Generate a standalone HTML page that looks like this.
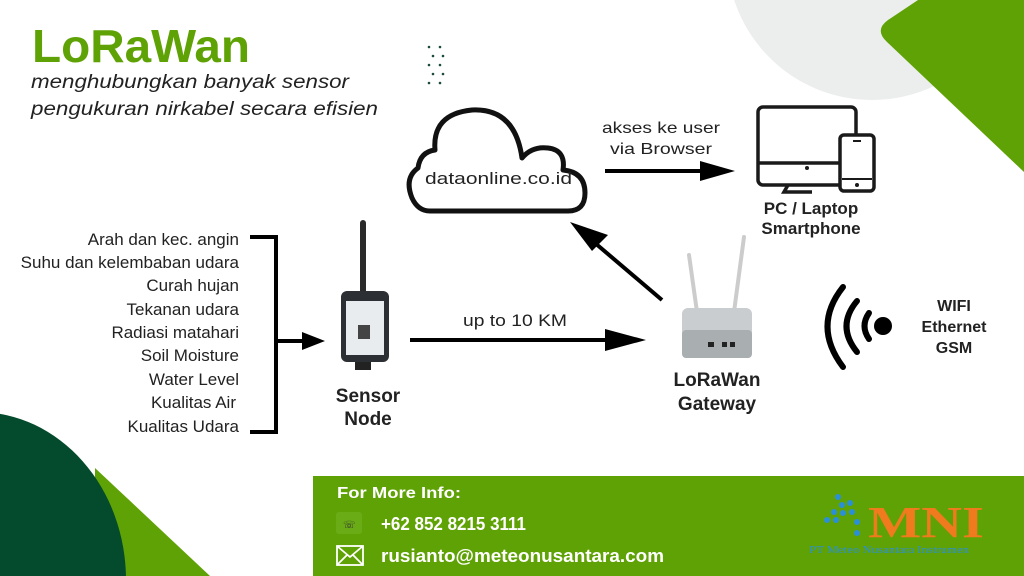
<!DOCTYPE html>
<html><head><meta charset="utf-8"><style>
html,body{margin:0;padding:0;background:#fff;width:1024px;height:576px;overflow:hidden;}
svg{display:block;}
</style></head><body>
<svg width="1024" height="576" viewBox="0 0 1024 576" xmlns="http://www.w3.org/2000/svg" font-family="Liberation Sans, sans-serif">
<rect width="1024" height="576" fill="#fff"/>
<circle cx="872" cy="-45" r="145" fill="#eceeed"/>
<path d="M918,0 L1024,0 L1024,172 L887,42 Q874,30 888,20 Z" fill="#5fa205"/>
<polygon points="95,468 210,576 95,576" fill="#5fa205"/>
<ellipse cx="-22" cy="580" rx="148" ry="168" fill="#044a2c"/>
<text x="32" y="62" font-size="46" font-weight="bold" fill="#5fa205" textLength="218" lengthAdjust="spacingAndGlyphs">LoRaWan</text>
<text x="31" y="88" font-size="19" font-style="italic" fill="#222" textLength="318" lengthAdjust="spacingAndGlyphs">menghubungkan banyak sensor</text>
<text x="31" y="115" font-size="19" font-style="italic" fill="#222" textLength="347" lengthAdjust="spacingAndGlyphs">pengukuran nirkabel secara efisien</text>
<g fill="#1b4b3a">
<circle cx="429" cy="47" r="1.3"/><circle cx="440" cy="47" r="1.3"/>
<circle cx="433" cy="56" r="1.3"/><circle cx="443" cy="56" r="1.3"/>
<circle cx="429" cy="65" r="1.3"/><circle cx="440" cy="65" r="1.3"/>
<circle cx="433" cy="74" r="1.3"/><circle cx="443" cy="74" r="1.3"/>
<circle cx="429" cy="83" r="1.3"/><circle cx="440" cy="83" r="1.3"/>
</g>
<path d="M430,211 L568,211 Q585,211 585,193 Q585,172 563,170 Q566,150 548,148 Q532,146 522,158 Q515,108 472,110 Q432,114 435,150 Q420,152 418,168 Q404,178 412,198 Q418,211 430,211 Z" fill="#fff" stroke="#111" stroke-width="5" stroke-linejoin="round"/>
<text x="425" y="184" font-size="17" fill="#222" textLength="147" lengthAdjust="spacingAndGlyphs">dataonline.co.id</text>
<g stroke="#000" stroke-width="4">
<line x1="605" y1="171" x2="705" y2="171"/>
<line x1="410" y1="340" x2="615" y2="340"/>
<line x1="662" y1="300" x2="595" y2="243"/>
<line x1="250" y1="237" x2="278" y2="237"/>
<line x1="276" y1="237" x2="276" y2="432"/>
<line x1="250" y1="432" x2="278" y2="432"/>
<line x1="276" y1="341" x2="305" y2="341"/>
</g>
<polygon points="700,161 735,171 700,181" fill="#000"/>
<polygon points="605,329 646,340 605,351" fill="#000"/>
<polygon points="570,222 608,235 592,251" fill="#000"/>
<polygon points="302,332 325,341 302,350" fill="#000"/>
<text x="602" y="133" font-size="16" fill="#222" textLength="118" lengthAdjust="spacingAndGlyphs">akses ke user</text>
<text x="610" y="154" font-size="16" fill="#222" textLength="102" lengthAdjust="spacingAndGlyphs">via Browser</text>
<text x="463" y="326" font-size="17" fill="#222" textLength="104" lengthAdjust="spacingAndGlyphs">up to 10 KM</text>
<g font-size="17" text-anchor="end" fill="#222">
<text x="239" y="245">Arah dan kec. angin</text>
<text x="239" y="268">Suhu dan kelembaban udara</text>
<text x="239" y="291">Curah hujan</text>
<text x="239" y="315">Tekanan udara</text>
<text x="239" y="338">Radiasi matahari</text>
<text x="239" y="361">Soil Moisture</text>
<text x="239" y="385">Water Level</text>
<text x="236" y="408">Kualitas Air</text>
<text x="239" y="432">Kualitas Udara</text>
</g>
<rect x="360" y="220" width="6" height="75" rx="3" fill="#2a2a2a"/>
<rect x="341" y="291" width="48" height="71" rx="6" fill="#2c2f33"/>
<rect x="346" y="301" width="38" height="54" fill="#e8ecee"/>
<rect x="358" y="325" width="12" height="14" fill="#444"/>
<rect x="355" y="362" width="16" height="8" fill="#222"/>
<text x="368" y="402" font-size="19" font-weight="bold" text-anchor="middle" fill="#222">Sensor</text>
<text x="368" y="425" font-size="19" font-weight="bold" text-anchor="middle" fill="#222">Node</text>
<g stroke="#1a1a1a" stroke-width="3.5" fill="none">
<rect x="758" y="107" width="98" height="78" rx="5"/>
<line x1="758" y1="163" x2="840" y2="163"/>
<path d="M788,185 L784,192 L812,192"/>
</g>
<rect x="840" y="135" width="34" height="56" rx="4" fill="#fff" stroke="#1a1a1a" stroke-width="3.5"/>
<line x1="842" y1="179" x2="872" y2="179" stroke="#1a1a1a" stroke-width="2"/>
<line x1="853" y1="141" x2="861" y2="141" stroke="#1a1a1a" stroke-width="2"/>
<circle cx="807" cy="168" r="2" fill="#1a1a1a"/>
<circle cx="857" cy="185" r="2" fill="#1a1a1a"/>
<text x="811" y="214" font-size="17" font-weight="bold" text-anchor="middle" fill="#222">PC / Laptop</text>
<text x="811" y="234" font-size="17" font-weight="bold" text-anchor="middle" fill="#222">Smartphone</text>
<line x1="689" y1="255" x2="697" y2="312" stroke="#ccc" stroke-width="4" stroke-linecap="round"/>
<line x1="744" y1="237" x2="734" y2="312" stroke="#ccc" stroke-width="4" stroke-linecap="round"/>
<rect x="682" y="308" width="70" height="50" rx="6" fill="#c9cdd0"/>
<rect x="682" y="330" width="70" height="28" rx="4" fill="#a9aeb1"/>
<rect x="708" y="342" width="6" height="5" fill="#222"/><rect x="722" y="342" width="5" height="5" fill="#222"/><rect x="730" y="342" width="5" height="5" fill="#222"/>
<text x="717" y="386" font-size="19" font-weight="bold" text-anchor="middle" fill="#222">LoRaWan</text>
<text x="717" y="410" font-size="19" font-weight="bold" text-anchor="middle" fill="#222">Gateway</text>
<g stroke="#000" stroke-width="6" fill="none" stroke-linecap="round">
<path d="M843,287 Q812,326 843,367"/>
<path d="M857,301 Q836,326 857,352"/>
<path d="M869,313 Q860,326 869,339"/>
</g>
<circle cx="883" cy="326" r="9" fill="#000"/>
<g font-size="16" font-weight="bold" text-anchor="middle" fill="#222">
<text x="954" y="311">WIFI</text>
<text x="954" y="332">Ethernet</text>
<text x="954" y="353">GSM</text>
</g>
<rect x="313" y="476" width="711" height="100" fill="#5fa205"/>
<text x="337" y="498" font-size="16" font-weight="bold" fill="#fff" textLength="124" lengthAdjust="spacingAndGlyphs">For More Info:</text>
<rect x="336" y="512" width="26" height="22" rx="3" fill="#6aac15"/>
<text x="343" y="528" font-size="10" fill="#333">☏</text>
<text x="381" y="530" font-size="18" font-weight="bold" fill="#fff" textLength="145" lengthAdjust="spacingAndGlyphs">+62 852 8215 3111</text>
<g stroke="#fff" stroke-width="1.8" fill="none"><rect x="337" y="546" width="26" height="19"/><path d="M337,546 L350,557 L363,546 M337,565 L347,555 M363,565 L353,555"/></g>
<text x="381" y="562" font-size="18" font-weight="bold" fill="#fff" textLength="283" lengthAdjust="spacingAndGlyphs">rusianto@meteonusantara.com</text>
<g fill="#2b8fd8">
<circle cx="838" cy="497" r="3"/><circle cx="842" cy="505" r="3"/><circle cx="850" cy="503" r="3"/>
<circle cx="834" cy="512" r="3"/><circle cx="843" cy="513" r="3"/><circle cx="852" cy="512" r="3"/>
<circle cx="827" cy="520" r="3"/><circle cx="836" cy="520" r="3"/><circle cx="857" cy="522" r="3"/>
<circle cx="857" cy="533" r="3"/>
</g>
<text x="868" y="537" font-size="44" font-weight="bold" style="font-family:'Liberation Serif',serif" fill="#f07a1e" textLength="116" lengthAdjust="spacingAndGlyphs">MNI</text>
<text x="809" y="553" font-size="11" style="font-family:'Liberation Serif',serif" fill="#2b8fd8" textLength="160" lengthAdjust="spacingAndGlyphs">PT Meteo Nusantara Instrumen</text>
</svg>
</body></html>
